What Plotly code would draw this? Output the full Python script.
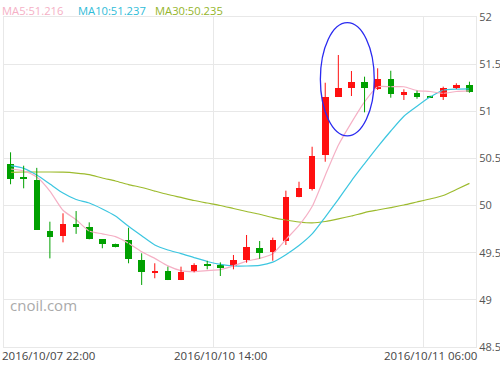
import plotly.graph_objects as go

# ---- data (hourly candles) ----
opens  = [50.44, 50.306, 50.274, 49.733, 49.68, 49.808, 49.776, 49.645, 49.596, 49.635,
          49.426, 49.282, 49.306, 49.21, 49.292, 49.377, 49.37, 49.362, 49.423, 49.547,
          49.511, 49.627, 50.094, 50.172, 50.536, 51.155, 51.244, 51.314, 51.236, 51.342,
          51.176, 51.19, 51.162, 51.148, 51.244, 51.279]
highs  = [50.565, 50.423, 50.40, 49.829, 49.918, 49.942, 49.822, 49.645, 49.596, 49.765,
          49.494, 49.388, 49.352, 49.352, 49.388, 49.415, 49.398, 49.476, 49.688, 49.624,
          49.66, 50.158, 50.253, 50.624, 51.303, 51.597, 51.427, 51.367, 51.456, 51.43,
          51.233, 51.218, 51.165, 51.261, 51.297, 51.314]
lows   = [50.226, 50.183, 49.744, 49.44, 49.61, 49.70, 49.642, 49.547, 49.557, 49.388,
          49.158, 49.229, 49.21, 49.21, 49.292, 49.324, 49.253, 49.324, 49.394, 49.436,
          49.415, 49.582, 50.088, 50.16, 50.465, 51.155, 51.162, 50.989, 51.226, 51.144,
          51.12, 51.133, 51.145, 51.12, 51.236, 51.197]
closes = [50.28, 50.278, 49.744, 49.67, 49.80, 49.773, 49.649, 49.592, 49.557, 49.433,
          49.292, 49.309, 49.21, 49.299, 49.366, 49.366, 49.335, 49.423, 49.557, 49.50,
          49.635, 50.094, 50.183, 50.529, 51.155, 51.244, 51.307, 51.244, 51.342, 51.18,
          51.201, 51.155, 51.148, 51.25, 51.279, 51.208]

ma5  = [50.388, 50.367, 50.303, 50.154, 49.95, 49.85, 49.73, 49.70, 49.67, 49.60,
        49.51, 49.44, 49.36, 49.31, 49.30, 49.31, 49.32, 49.36, 49.41, 49.44,
        49.49, 49.64, 49.79, 49.99, 50.32, 50.64, 50.88, 51.10, 51.26, 51.26,
        51.26, 51.22, 51.21, 51.19, 51.21, 51.216]
ma10 = [50.423, 50.395, 50.324, 50.229, 50.133, 50.064, 50.027, 49.964, 49.889, 49.78,
        49.679, 49.582, 49.529, 49.491, 49.448, 49.407, 49.376, 49.359, 49.359, 49.366,
        49.40, 49.479, 49.576, 49.699, 49.878, 50.066, 50.263, 50.445, 50.623, 50.791,
        50.948, 51.054, 51.151, 51.223, 51.235, 51.237]
ma30 = [50.353, 50.356, 50.356, 50.356, 50.354, 50.345, 50.329, 50.292, 50.261, 50.223,
        50.192, 50.154, 50.117, 50.086, 50.054, 50.027, 50.001, 49.969, 49.937, 49.908,
        49.873, 49.847, 49.826, 49.817, 49.831, 49.858, 49.889, 49.926, 49.953, 49.979,
        50.006, 50.038, 50.070, 50.107, 50.170, 50.235]

tick_idx = [0, 16, 32]
tick_labels = ["2016/10/07 22:00", "2016/10/10 14:00", "2016/10/11 06:00"]
y_ticks = [48.5, 49, 49.5, 50, 50.5, 51, 51.5, 52]
legend_labels = ["MA5:51.216", "MA10:51.237", "MA30:50.235"]
# highlighted region (candle index range, price range)
ellipse_x = [23.63, 27.74]
ellipse_y = [50.74, 51.94]

RED = "#ff1010"
GREEN = "#00a000"
C_MA5 = "#f5b0c5"
C_MA10 = "#3cc6e0"
C_MA30 = "#9dbb2e"

n = len(closes)
xs = list(range(n))

fig = go.Figure()

# MA lines
for vals, col in [(ma30, C_MA30), (ma10, C_MA10), (ma5, C_MA5)]:
    fig.add_trace(go.Scatter(x=xs, y=vals, mode="lines",
                             line=dict(color=col, width=1.2, shape="spline", smoothing=0.6),
                             hoverinfo="skip", showlegend=False))

# wicks
for up, col in [(True, RED), (False, GREEN)]:
    wx, wy = [], []
    for i in xs:
        if (closes[i] >= opens[i]) == up:
            wx += [i, i, None]
            wy += [lows[i], highs[i], None]
    fig.add_trace(go.Scatter(x=wx, y=wy, mode="lines", line=dict(color=col, width=1),
                             hoverinfo="skip", showlegend=False))

# bodies
bases = [min(o, c) for o, c in zip(opens, closes)]
heights = [max(abs(c - o), 0.012) for o, c in zip(opens, closes)]
colors = [RED if c >= o else GREEN for o, c in zip(opens, closes)]
fig.add_trace(go.Bar(x=xs, y=heights, base=bases, width=0.5,
                     marker=dict(color=colors, line=dict(width=0)),
                     showlegend=False, hoverinfo="skip"))

# ellipse
fig.add_shape(type="circle", xref="x", yref="y",
              x0=ellipse_x[0], x1=ellipse_x[1], y0=ellipse_y[0], y1=ellipse_y[1],
              line=dict(color="#2a2af0", width=1.3))

fig.update_layout(
    width=500, height=365,
    margin=dict(l=4, r=24, t=17, b=18),
    paper_bgcolor="white", plot_bgcolor="white",
    font=dict(family="Open Sans, sans-serif", size=11, color="#555"),
    bargap=0,
    xaxis=dict(range=[-0.5, n - 0.5], showgrid=False, zeroline=False,
               showticklabels=False, ticks="",
               showline=True, mirror=True, linecolor="#e8e8e8", linewidth=1,
               minor=dict(tick0=-0.5, dtick=16, showgrid=True, gridcolor="#e8e8e8",
                          gridwidth=1, ticks="")),
    yaxis=dict(range=[48.5, 52], side="right", tickvals=y_ticks,
               ticktext=[f"{v:g}" for v in y_ticks],
               showgrid=True, gridcolor="#e8e8e8", gridwidth=1, zeroline=False,
               showline=True, mirror=True, linecolor="#e8e8e8",
               ticks="", ticklabelstandoff=0, automargin=False,
               tickfont=dict(size=11, color="#555")),
)

# x tick labels (first clamped to left edge)
for k, (idx, lab) in enumerate(zip(tick_idx, tick_labels)):
    if k == 0:
        fig.add_annotation(x=0, xref="paper", y=0, yref="paper", text=lab,
                           showarrow=False, xanchor="left", yanchor="top",
                           xshift=-4, yshift=1, font=dict(size=11.5, color="#444"))
    else:
        fig.add_annotation(x=idx, xref="x", y=0, yref="paper", text=lab,
                           showarrow=False, xanchor="center", yanchor="top",
                           yshift=1, font=dict(size=11.5, color="#444"))

# legend texts
leg_x = [0, 76, 153]
for lab, col, lx in zip(legend_labels, [C_MA5, "#2fbcd8", "#95b52a"], leg_x):
    fig.add_annotation(x=0, xref="paper", y=1, yref="paper", text=lab,
                       showarrow=False, xanchor="left", yanchor="middle",
                       xshift=lx - 4, yshift=7,
                       font=dict(size=11.2, color=col))

fig.add_annotation(x=0, xref="paper", y=0, yref="paper", text="cnoil.com", showarrow=False,
                   xanchor="left", yanchor="middle", xshift=4, yshift=42,
                   font=dict(size=15, color="#aaaaaa"))

fig.write_html("out.html", config={"displayModeBar": False},
               post_script="document.body.style.margin='0px';")
